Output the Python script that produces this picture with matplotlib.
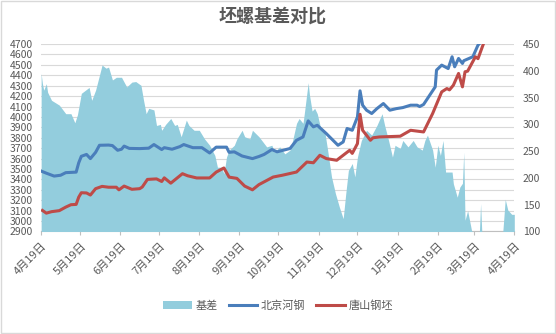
import numpy as np
import pandas as pd
import matplotlib
matplotlib.use('Agg')
import matplotlib.pyplot as plt
from matplotlib.patches import Patch, Rectangle
from matplotlib.lines import Line2D
from matplotlib.transforms import ScaledTranslation

plt.rcParams['font.family'] = ['Noto Sans CJK SC', 'DejaVu Sans']

start = pd.Timestamp('2017-04-19')

# all day values are counted from 2017-04-19
bj_days = [0, 4, 10, 15, 19, 27, 29, 31, 35, 38, 42, 45, 52, 55, 59, 62, 64, 68, 76, 83,
           87, 93, 95, 101, 107, 110, 117, 124, 130, 135, 143, 145, 149, 155, 163, 168, 172, 178, 182, 192,
           197, 202, 206, 210, 213, 220, 229, 233, 236, 240, 244, 246, 248, 251, 255, 259, 264, 269, 274, 279,
           285, 290, 292, 295, 304, 305, 309, 314, 317, 319, 322, 325, 326, 333, 337, 340]
bj_price = [3480, 3460, 3432, 3440, 3465, 3470, 3560, 3622, 3640, 3600, 3660, 3728, 3730, 3725, 3680, 3690, 3720, 3698, 3696, 3700,
            3735, 3687, 3705, 3690, 3715, 3735, 3705, 3705, 3654, 3710, 3710, 3660, 3665, 3625, 3600, 3620, 3640, 3687, 3665, 3697,
            3776, 3808, 3962, 3905, 3920, 3840, 3728, 3760, 3889, 3872, 4000, 4251, 4113, 4065, 4033, 4080, 4129, 4065, 4080, 4090,
            4113, 4113, 4100, 4120, 4289, 4450, 4498, 4465, 4578, 4482, 4562, 4514, 4540, 4578, 4690, 4730]

ts_days = [1, 4, 8, 14, 19, 23, 27, 29, 31, 35, 38, 42, 47, 52, 58, 60, 64, 70, 76, 78,
           82, 89, 93, 95, 100, 109, 113, 120, 130, 135, 141, 145, 151, 157, 163, 168, 179, 186, 197, 205,
           210, 215, 220, 228, 238, 240, 244, 246, 248, 254, 256, 261, 277, 285, 295, 302, 309, 313, 315, 318,
           322, 325, 327, 329, 335, 337, 342]
ts_price = [3102, 3076, 3090, 3100, 3134, 3157, 3160, 3230, 3272, 3270, 3250, 3311, 3333, 3325, 3325, 3300, 3336, 3305, 3311, 3327,
            3400, 3405, 3380, 3415, 3364, 3455, 3435, 3414, 3414, 3470, 3510, 3422, 3410, 3336, 3300, 3350, 3423, 3440, 3471, 3567,
            3560, 3632, 3600, 3584, 3680, 3650, 3744, 4026, 3872, 3776, 3800, 3808, 3815, 3872, 3856, 4033, 4241, 4273, 4260, 4305,
            4418, 4289, 4434, 4440, 4578, 4560, 4730]

basis_days = [0, 1, 2, 4, 5, 8, 14, 19, 23, 26, 28, 31, 37, 39, 42, 45, 47, 50, 52, 55,
              58, 62, 66, 70, 73, 77, 79, 81, 83, 87, 89, 92, 93, 96, 100, 103, 105, 108, 112, 114,
              118, 122, 126, 130, 134, 136, 139, 141, 143, 145, 149, 151, 155, 157, 161, 163, 168, 174, 178, 180,
              184, 188, 192, 194, 197, 199, 202, 203, 206, 207, 209, 211, 213, 216, 219, 221, 224, 227, 230, 233,
              235, 237, 240, 242, 244, 247, 251, 255, 259, 263, 265, 268, 271, 273, 277, 279, 283, 287, 290, 294,
              296, 298, 302, 304, 306, 308, 310, 312, 317, 318, 321, 323, 325, 326, 327, 329, 332, 334, 338, 339,
              340, 356, 358, 360, 363, 365]
basis = [395, 376, 364, 376, 360, 345, 336, 320, 320, 303, 318, 358, 369, 345, 364, 392, 411, 405, 407, 383,
         388, 388, 370, 379, 380, 373, 345, 320, 330, 327, 298, 300, 289, 300, 311, 298, 300, 277, 308, 298,
         289, 289, 273, 261, 242, 220, 220, 208, 239, 252, 261, 273, 289, 277, 273, 289, 277, 258, 261, 248,
         258, 245, 252, 270, 302, 311, 302, 320, 378, 355, 325, 330, 320, 289, 283, 252, 202, 171, 146, 124,
         171, 214, 227, 202, 239, 270, 289, 280, 298, 320, 298, 270, 239, 261, 255, 270, 258, 270, 258, 252,
         270, 280, 252, 220, 261, 242, 270, 211, 211, 189, 164, 183, 190, 248, 121, 139, 102, 95, 95, 152,
         95, 95, 160, 140, 132, 132]

month_labels = ['4月19日', '5月19日', '6月19日', '7月19日', '8月19日', '9月19日', '10月19日',
                '11月19日', '12月19日', '1月19日', '2月19日', '3月19日', '4月19日']

fill_c = '#93CDDD'
blue_c = '#4A7EBB'
red_c = '#BE4B48'
text_c = '#595959'
grid_c = '#D9D9D9'

bj_dates = start + pd.to_timedelta(bj_days, unit='D')
ts_dates = start + pd.to_timedelta(ts_days, unit='D')
basis_dates = start + pd.to_timedelta(basis_days, unit='D')
tick_dates = [start + pd.DateOffset(months=i) for i in range(len(month_labels))]

fig = plt.figure(figsize=(5.56, 3.34), dpi=100)
pos = [0.074, 0.307, 0.851, 0.561]

# bottom layer: gridlines, left ticks, date axis
ax = fig.add_axes(pos)
ax.set_ylim(2900, 4700)
ax.set_yticks(np.arange(2900, 4701, 100))
ax.grid(axis='y', color=grid_c, lw=0.8)
for s in ['top', 'left', 'right']:
    ax.spines[s].set_visible(False)
ax.spines['bottom'].set_color('#BFBFBF')
ax.tick_params(axis='y', length=0, labelsize=7.5, labelcolor=text_c, pad=6)
ax.tick_params(axis='x', length=3, color='#BFBFBF', labelsize=8, labelcolor=text_c, pad=3)
ax.set_xlim(tick_dates[0], tick_dates[-1])
ax.set_xticks(tick_dates)
ax.set_xticklabels(month_labels, rotation=45, ha='right', va='center', rotation_mode='anchor')
shift = ScaledTranslation(3 / 72, -3 / 72, fig.dpi_scale_trans)
for lab in ax.get_xticklabels():
    lab.set_transform(lab.get_transform() + shift)

# basis area on the right axis
ax2 = ax.twinx()
ax2.fill_between(basis_dates, 0, basis, color=fill_c, lw=0)
ax2.set_ylim(100, 450)
ax2.set_yticks(range(100, 451, 50))
for s in ax2.spines.values():
    s.set_visible(False)
ax2.tick_params(axis='y', length=0, labelsize=7.5, labelcolor=text_c, pad=6)

# price lines on top
ax3 = fig.add_axes(pos, sharex=ax)
ax3.patch.set_visible(False)
ax3.set_ylim(2900, 4700)
ax3.plot(bj_dates, bj_price, color=blue_c, lw=2.2)
ax3.plot(ts_dates, ts_price, color=red_c, lw=2.2)
ax3.axis('off')

fig.text(0.49, 0.953, '坯螺基差对比', ha='center', va='center', fontsize=13,
         fontweight='bold', color=text_c)

handles = [Patch(facecolor=fill_c, edgecolor='none'),
           Line2D([], [], color=blue_c, lw=2.2),
           Line2D([], [], color=red_c, lw=2.2)]
fig.legend(handles, ['基差', '北京河钢', '唐山钢坯'], loc='center', bbox_to_anchor=(0.5, 0.085),
           ncol=3, frameon=False, fontsize=8, labelcolor=text_c, handlelength=2.6,
           handletextpad=0.3, columnspacing=1.0)

fig.patches.append(Rectangle((0.001, 0.002), 0.997, 0.996, transform=fig.transFigure,
                             fill=False, edgecolor=grid_c, lw=1))

fig.savefig('out.png', dpi=100)
